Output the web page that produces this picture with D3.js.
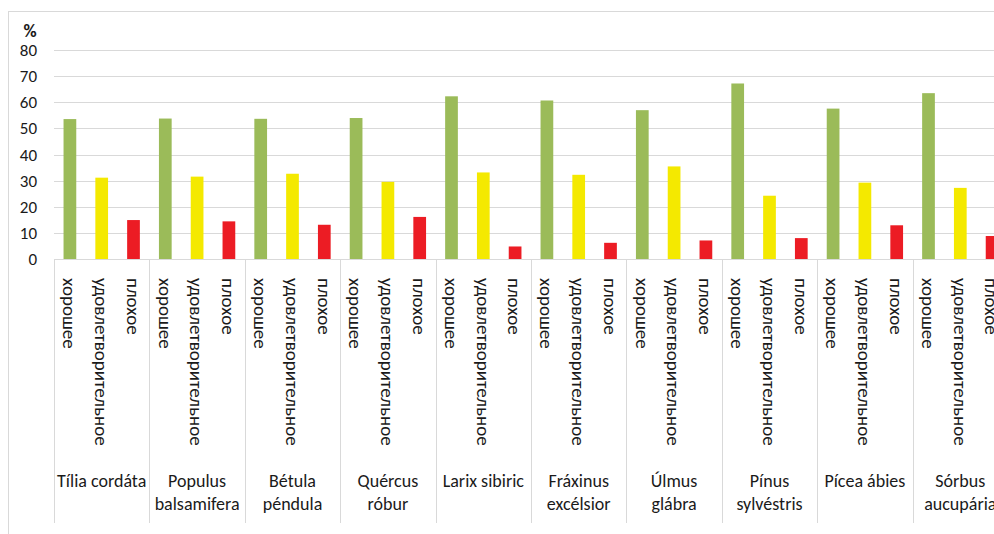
<!DOCTYPE html>
<html>
<head>
<meta charset="utf-8">
<script src="https://cdn.jsdelivr.net/npm/d3@7"></script>
<style>
  body { margin: 0; background: #fff; }
  svg { display: block; font-family: Carlito, Calibri, Lato, sans-serif; }
</style>
</head>
<body>
<svg id="chart" width="994" height="534"></svg>
<script>
const species = [
  "Tília cordáta", "Populus\nbalsamifera", "Bétula\npéndula", "Quércus\nróbur",
  "Larix sibiric", "Fráxinus\nexcélsior", "Úlmus\nglábra", "Pínus\nsylvéstris",
  "Pícea ábies", "Sórbus\naucupária"
];
const conditions = ["хорошее", "удовлетворительное", "плохое"];
const good = [53.6, 53.8, 53.7, 54.0, 62.3, 60.7, 57.0, 67.2, 57.6, 63.5];
const satisfactory = [31.2, 31.6, 32.7, 29.6, 33.2, 32.3, 35.5, 24.3, 29.3, 27.3];
const poor = [15.0, 14.5, 13.2, 16.2, 4.9, 6.3, 7.2, 8.1, 13.0, 8.9];
const colors = ["#9bbb59", "#f4e900", "#ec1c24"];

const svg = d3.select("#chart");

// chart frame (cut off at right and bottom like the original)
svg.append("rect")
  .attr("x", 8.5).attr("y", 11.5)
  .attr("width", 1100).attr("height", 600)
  .attr("fill", "none").attr("stroke", "#d9d9d9");

const x0 = d3.scaleBand().domain(species).range([54, 1008]);
const x1 = d3.scaleBand().domain(conditions).range([0, x0.bandwidth()])
  .paddingInner(0.6).paddingOuter(0.3);
const y = d3.scaleLinear().domain([0, 80]).range([259.3, 50]);

// gridlines
svg.append("g")
  .selectAll("line")
  .data(y.ticks(8))
  .join("line")
  .attr("x1", 54).attr("x2", 1008)
  .attr("y1", (d) => Math.round(y(d)) + 0.5)
  .attr("y2", (d) => Math.round(y(d)) + 0.5)
  .attr("stroke", "#d9d9d9");

// y tick labels
svg.append("g")
  .selectAll("text")
  .data(y.ticks(8))
  .join("text")
  .attr("x", 37)
  .attr("y", (d) => y(d))
  .attr("dy", "0.35em")
  .attr("text-anchor", "end")
  .attr("font-size", 17)
  .attr("fill", "#1a1a1a")
  .text((d) => d);

svg.append("text")
  .attr("x", 30).attr("y", 36.5)
  .attr("text-anchor", "middle")
  .attr("font-size", 18)
  .attr("font-weight", "bold")
  .attr("fill", "#1a1a1a")
  .text("%");

// group separators
svg.append("g")
  .selectAll("line")
  .data(species.map((s) => x0(s)).concat([1008]))
  .join("line")
  .attr("x1", (d) => Math.round(d) + 0.5)
  .attr("x2", (d) => Math.round(d) + 0.5)
  .attr("y1", 259).attr("y2", 523)
  .attr("stroke", "#d9d9d9");

const rows = species.map((s, i) => ({
  species: s,
  values: [good[i], satisfactory[i], poor[i]]
}));

const groups = svg.append("g")
  .selectAll("g")
  .data(rows)
  .join("g")
  .attr("transform", (d) => `translate(${x0(d.species)},0)`);

groups.selectAll("rect")
  .data((d) => d.values.map((v, j) => ({ cond: conditions[j], value: v, j: j })))
  .join("rect")
  .attr("x", (d) => x1(d.cond))
  .attr("width", x1.bandwidth())
  .attr("y", (d) => y(d.value))
  .attr("height", (d) => y(0) - y(d.value))
  .attr("fill", (d) => colors[d.j]);

// rotated condition labels (read top to bottom)
groups.selectAll("text.cond")
  .data(conditions)
  .join("text")
  .attr("class", "cond")
  .attr("transform", (d) => `translate(${x1(d) + x1.bandwidth() / 2},278) rotate(90)`)
  .attr("y", 0)
  .attr("dy", "0.35em")
  .attr("font-size", 19)
  .attr("fill", "#1a1a1a")
  .text((d) => d);

// species labels
groups.append("text")
  .attr("class", "species")
  .attr("x", x0.bandwidth() / 2)
  .attr("y", 487)
  .attr("text-anchor", "middle")
  .attr("font-size", 18)
  .attr("fill", "#1a1a1a")
  .selectAll("tspan")
  .data((d) => d.species.split("\n"))
  .join("tspan")
  .attr("x", x0.bandwidth() / 2)
  .attr("dy", (d, i) => (i === 0 ? 0 : 23))
  .text((d) => d);

// zero axis line
svg.append("line")
  .attr("x1", 54).attr("x2", 1008)
  .attr("y1", 259.5).attr("y2", 259.5)
  .attr("stroke", "#d9d9d9");
</script>
</body>
</html>
